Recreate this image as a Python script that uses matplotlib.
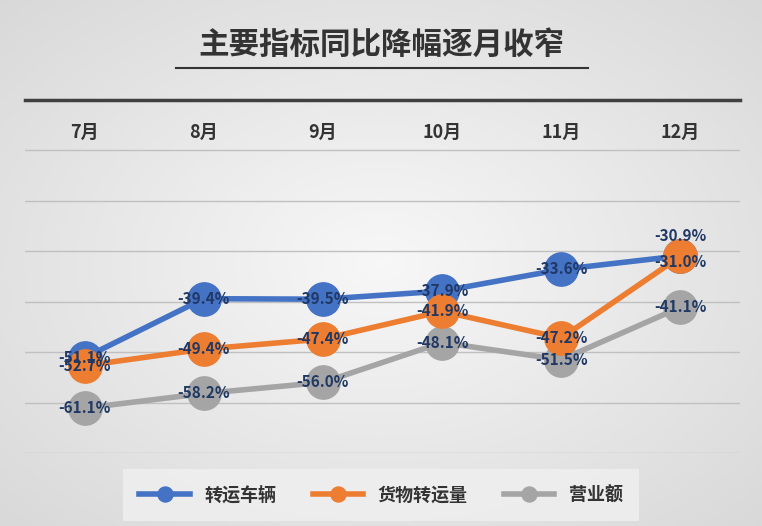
import matplotlib
matplotlib.use("Agg")
import matplotlib.pyplot as plt
import numpy as np

plt.rcParams['font.family'] = ['Noto Sans CJK SC', 'DejaVu Sans']

months = ["7月", "8月", "9月", "10月", "11月", "12月"]
transport = [-51.1, -39.4, -39.5, -37.9, -33.6, -30.9]
cargo = [-52.7, -49.4, -47.4, -41.9, -47.2, -31.0]
revenue = [-61.1, -58.2, -56.0, -48.1, -51.5, -41.1]
names = ["转运车辆", "货物转运量", "营业额"]
colors = ["#4472C4", "#ED7D31", "#A5A5A5"]

fig = plt.figure(figsize=(7.62, 5.26), dpi=100)
yy, xx = np.mgrid[-1:1:200j, -1:1:200j]
g = 0.97 - 0.12 * np.sqrt(xx**2 + yy**2) / np.sqrt(2)
bg = fig.add_axes([0, 0, 1, 1])
bg.imshow(np.dstack([g, g, g]), aspect='auto', extent=[0, 1, 0, 1])
bg.axis('off')

ax = fig.add_axes([25/762, 1 - 453/526, 715/762, 353/526])
ax.patch.set_alpha(0)
x = np.arange(len(months))
ax.set_xlim(-0.5, 5.5)
ax.set_ylim(-70, 0)
for y in range(-70, 0, 10):
    ax.axhline(y, color="#c0c0c0", lw=1, zorder=0)
for s in ["left", "right", "bottom"]:
    ax.spines[s].set_visible(False)
ax.spines["top"].set_color("#404040")
ax.spines["top"].set_linewidth(2.5)
ax.set_xticks([])
ax.set_yticks([])
for i, m in enumerate(months):
    ax.text(i, -6.4, m, ha='center', va='center', fontsize=13,
            fontweight='bold', color="#333333")

series = [transport, cargo, revenue]
for vals, name, c, z in zip(series, names, colors, [3, 4, 2]):
    ax.plot(x, vals, color=c, lw=4, marker='o', ms=24, label=name, zorder=z)

offs = {(0, 5): 4.0, (1, 5): -1.2}
for si, vals in enumerate(series):
    for i, v in enumerate(vals):
        dy = offs.get((si, i), 0)
        ax.text(i, v + dy, f"{v:.1f}%", ha='center', va='center', fontsize=11,
                fontweight='bold', color="#1F3864", zorder=10)

fig.text(0.5, 1 - 45/526, "主要指标同比降幅逐月收窄", ha='center', va='center',
         fontsize=22, fontweight='bold', color="#333333")
fig.add_artist(plt.Line2D([176/762, 588/762], [1 - 68/526, 1 - 68/526], color="#333333", lw=1.5))

leg = fig.legend(loc='center', bbox_to_anchor=(0.5, 1 - 495/526), ncol=3, fontsize=13,
                 frameon=True, markerscale=0.45, handlelength=2.8, columnspacing=2.0,
                 borderpad=0.6)
leg.get_frame().set_facecolor("#f0f0f0")
leg.get_frame().set_edgecolor("none")
leg.get_frame().set_boxstyle("square")
for t in leg.get_texts():
    t.set_fontweight('bold'); t.set_color("#333333")

fig.savefig("out.png", dpi=100)
